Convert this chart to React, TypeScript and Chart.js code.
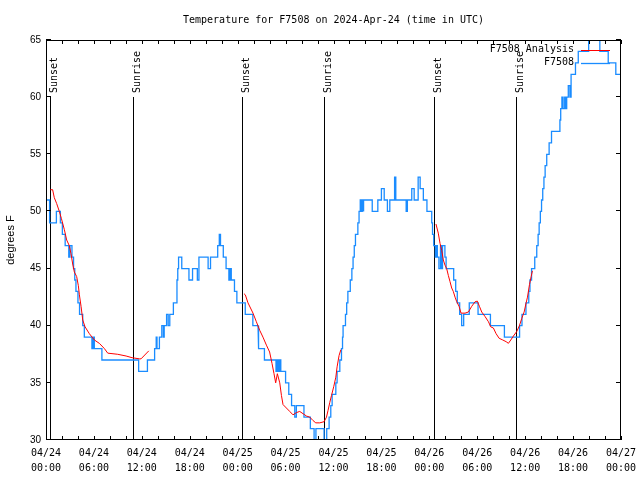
import React, { useEffect, useRef } from 'react';
import { Chart, registerables } from 'chart.js';

Chart.register(...registerables);

const TITLE = 'Temperature for F7508 on 2024-Apr-24 (time in UTC)';
const Y_TITLE = 'degrees F';
const X_DATES = ['04/24', '04/24', '04/24', '04/24', '04/25', '04/25', '04/25', '04/25', '04/26', '04/26', '04/26', '04/26', '04/27'];
const X_TIMES = ['00:00', '06:00', '12:00', '18:00', '00:00', '06:00', '12:00', '18:00', '00:00', '06:00', '12:00', '18:00', '00:00'];

const SUN_HOURS = [0.5, 10.86, 24.54, 34.82, 48.62, 58.91];
const SUN_LABELS = ['Sunset', 'Sunrise', 'Sunset', 'Sunrise', 'Sunset', 'Sunrise'];

const SERIES_NAMES = ['F7508 Analysis', 'F7508'];
const SERIES_COLORS = ['#ff0000', '#1a8cff'];

// Observed temperature: hour (from 04/24 00:00 UTC) at which the reading changes, and the new reading
const OBS_HOURS = [
  0, 0.45, 1.3, 1.8, 2.05, 2.4, 2.85, 3.0, 3.25, 3.45, 3.6, 3.75, 4.0, 4.2, 4.6, 4.8, 5.75, 5.9, 6.05, 7.0,
  11.6, 12.7, 13.6, 13.8, 13.9, 14.2, 14.5, 14.7, 14.8, 15.1, 15.3, 15.5, 15.95, 16.4, 16.5, 16.6, 17.0, 17.9,
  18.35, 18.95, 19.15, 20.3, 20.6, 21.5, 21.7, 21.85, 22.2, 22.55, 22.9, 23.05, 23.2, 23.6, 23.9, 24.95, 25.9,
  26.55, 26.65, 27.35, 28.8, 28.95, 29.1, 29.25, 29.4, 30.0, 30.4, 30.75, 31.15, 31.35, 32.3, 33.1, 33.57,
  33.8, 34.82, 35.15, 35.45, 35.66, 35.83, 36.29, 36.45, 36.79, 37.0, 37.13, 37.2, 37.5, 37.65, 37.8, 38.1,
  38.3, 38.45, 38.6, 38.75, 39.05, 39.2, 39.35, 39.5, 39.6, 39.7, 39.8, 40.85, 41.55, 42.0, 42.35, 42.75,
  43.05, 43.65, 43.8, 45.1, 45.25, 45.8, 46.1, 46.6, 46.85, 47.25, 47.7, 48.3, 48.4, 48.55, 48.75, 48.85,
  49.0, 49.2, 49.4, 49.55, 49.65, 49.95, 50.1, 51.05, 51.3, 51.5, 51.8, 52.05, 52.3, 53.0, 54.1, 55.65,
  57.4, 59.3, 59.6, 60.1, 60.45, 60.6, 60.8, 61.2, 61.45, 61.62, 61.75, 61.9, 62.05, 62.2, 62.35, 62.5,
  62.7, 63.0, 63.3, 64.35, 64.45, 64.6, 64.75, 64.95, 65.05, 65.2, 65.4, 65.6, 65.75, 66.3, 66.65, 67.95,
  69.35, 70.4, 71.35, 72,
];
const OBS_TEMPS = [
  51, 49, 50, 49, 48, 47, 46, 47, 46, 45, 44, 43, 42, 41, 40, 39, 38, 39, 38, 37,
  36, 37, 38, 39, 38, 39, 40, 39, 40, 41, 40, 41, 42, 44, 45, 46, 45, 44,
  45, 44, 46, 45, 46, 47, 48, 47, 46, 45, 44, 45, 44, 43, 42, 41, 40,
  39, 38, 37, 36, 37, 36, 37, 36, 35, 34, 33, 32, 33, 32, 31, 29,
  31, 29, 31, 32, 33, 34, 35, 36, 37, 38, 39, 40, 41, 42, 43, 44,
  45, 46, 47, 48, 49, 50, 51, 50, 51, 50, 51, 50, 51, 52, 51, 50,
  51, 53, 51, 50, 51, 52, 51, 53, 52, 51, 50, 49, 48, 47, 46, 47,
  46, 45, 47, 45, 47, 46, 45, 44, 43, 42, 41, 40, 41, 42, 41, 40,
  39, 40, 41, 42, 43, 44, 45, 46, 47, 48, 49, 50, 51, 52, 53, 54,
  55, 56, 57, 58, 59, 60, 59, 60, 59, 60, 61, 60, 62, 63, 64, 66,
  64, 63, 62, 62,
];

// Analysis temperature (null separates the night-time segments)
const ANALYSIS_HOURS = [
  0.54, 0.83, 1.04, 1.33, 1.67, 1.92, 2.3, 2.59, 2.92, 3.13, 3.34, 3.55, 3.84, 4.05, 4.18, 4.39, 4.6, 4.89,
  5.43, 6.06, 6.69, 7.31, 7.73, 8.98, 10.03, 10.78, 11.7, 11.9, 12.87,
  18,
  24.79, 24.96, 25.29, 25.92, 26.34, 26.76, 27.17, 27.6, 28.0, 28.3, 28.55, 28.76, 28.97, 29.27, 29.48, 29.68,
  30.1, 30.52, 30.93, 31.36, 31.77, 32.19, 32.61, 33.03, 33.44, 33.78, 34.28, 34.82, 35.12, 35.32, 35.54,
  35.75, 36.04, 36.29, 36.45, 36.7, 36.92,
  42,
  48.83, 49.12, 49.34, 49.55, 49.75, 49.96, 50.17, 50.38, 50.59, 50.8, 51.0, 51.22, 51.43, 51.72, 51.97,
  52.47, 52.89, 53.31, 53.73, 54.01, 54.27, 54.56, 54.98, 55.4, 55.69, 56.02, 56.36, 56.74, 57.2, 57.62,
  57.9, 58.2, 58.53, 58.95, 59.28, 59.58, 59.87, 60.12, 60.29, 60.54, 60.75, 60.91,
];
const ANALYSIS_TEMPS = [
  51.9, 51.9, 51.2, 50.7, 50.0, 49.4, 48.4, 47.5, 47.0, 46.3, 45.4, 44.7, 44.3, 43.5, 42.7, 41.7, 40.5, 39.9,
  39.3, 38.75, 38.45, 38.0, 37.6, 37.5, 37.35, 37.2, 37.1, 37.1, 37.8,
  null,
  42.8, 42.7, 42.0, 41.1, 40.35, 39.6, 39.0, 38.3, 37.7, 36.7, 35.8, 35.0, 35.8, 35.0, 33.9, 33.1,
  32.8, 32.5, 32.2, 32.4, 32.5, 32.3, 32.1, 32.0, 31.7, 31.5, 31.5, 31.6, 32.0, 32.6, 33.3,
  33.9, 34.7, 35.5, 36.4, 37.4, 37.9,
  null,
  48.9, 48.1, 47.2, 46.6, 45.75, 45.3, 45.0, 44.4, 43.85, 43.3, 43.0, 42.5, 42.1, 41.7, 41.1,
  41.1, 41.2, 41.7, 42.1, 42.15, 41.7, 41.2, 40.8, 40.35, 39.9, 39.8, 39.3, 38.9, 38.75, 38.6,
  38.46, 38.75, 39.1, 39.5, 40.0, 40.65, 41.2, 42.0, 42.5, 43.6, 44.3, 44.8,
];

const X_MIN = 0;
const X_MAX = 72;
const Y_MIN = 30;
const Y_MAX = 65;

const MONO = '"DejaVu Sans Mono", monospace';
const SANS = '"Liberation Sans", Arial, sans-serif';

function buildSteps(hours: number[], temps: number[]) {
  const pts: { x: number; y: number }[] = [];
  for (let i = 0; i < hours.length; i++) {
    if (i > 0) pts.push({ x: hours[i], y: temps[i - 1] });
    pts.push({ x: hours[i], y: temps[i] });
  }
  return pts;
}

const decorPlugin = {
  id: 'gnuplotDecor',
  beforeDatasetsDraw(chart: any) {
    const { ctx, chartArea: a, scales } = chart;
    const x = scales.x;
    ctx.save();
    ctx.strokeStyle = '#000';
    ctx.fillStyle = '#000';
    ctx.lineWidth = 1;
    ctx.font = `10px ${MONO}`;
    SUN_HOURS.forEach((h, i) => {
      const px = Math.round(x.getPixelForValue(h)) + 0.5;
      ctx.beginPath();
      ctx.moveTo(px, a.top + 57);
      ctx.lineTo(px, a.bottom);
      ctx.stroke();
      ctx.save();
      ctx.translate(px + 6.5, a.top + 53);
      ctx.rotate(-Math.PI / 2);
      ctx.textAlign = 'left';
      ctx.textBaseline = 'alphabetic';
      ctx.fillText(SUN_LABELS[i], 0, 0);
      ctx.restore();
    });
    ctx.restore();
  },
  afterDatasetsDraw(chart: any) {
    const { ctx, chartArea: a, scales } = chart;
    const x = scales.x;
    const y = scales.y;
    ctx.save();
    ctx.strokeStyle = '#000';
    ctx.fillStyle = '#000';
    ctx.lineWidth = 1;
    // border
    ctx.strokeRect(a.left + 0.5, a.top + 0.5, a.right - a.left - 1, a.bottom - a.top - 1);
    // inward ticks
    ctx.beginPath();
    x.ticks.forEach((t: any) => {
      const px = Math.round(x.getPixelForValue(t.value)) + 0.5;
      ctx.moveTo(px, a.bottom);
      ctx.lineTo(px, a.bottom - 4);
      ctx.moveTo(px, a.top);
      ctx.lineTo(px, a.top + 4);
    });
    y.ticks.forEach((t: any) => {
      const py = Math.round(y.getPixelForValue(t.value)) - 0.5;
      ctx.moveTo(a.left, py);
      ctx.lineTo(a.left + 5, py);
      ctx.moveTo(a.right, py);
      ctx.lineTo(a.right - 5, py);
    });
    ctx.stroke();
    // legend
    ctx.font = `10px ${MONO}`;
    ctx.textAlign = 'right';
    ctx.textBaseline = 'middle';
    SERIES_NAMES.forEach((name, i) => {
      const ly = a.top + 9.5 + i * 13;
      ctx.fillStyle = '#000';
      ctx.fillText(name, a.right - 47, ly);
      ctx.strokeStyle = SERIES_COLORS[i];
      ctx.lineWidth = i === 1 ? 1.3 : 1;
      ctx.beginPath();
      ctx.moveTo(a.right - 40, Math.round(ly) + 0.5);
      ctx.lineTo(a.right - 11, Math.round(ly) + 0.5);
      ctx.stroke();
    });
    // title
    ctx.fillStyle = '#000';
    ctx.textAlign = 'center';
    ctx.textBaseline = 'middle';
    ctx.fillText(TITLE, (a.left + a.right) / 2, 20);
    ctx.restore();
  },
};

export default function App() {
  const canvasRef = useRef<HTMLCanvasElement | null>(null);

  useEffect(() => {
    document.body.style.margin = '0';
    const canvas = canvasRef.current;
    if (!canvas) return;
    const obsData = buildSteps(OBS_HOURS, OBS_TEMPS);
    const anaData = ANALYSIS_HOURS.map((h, i) => ({ x: h, y: ANALYSIS_TEMPS[i] }));
    const chart = new Chart(canvas, {
      type: 'line',
      data: {
        datasets: [
          {
            label: SERIES_NAMES[0],
            data: anaData as any,
            borderColor: SERIES_COLORS[0],
            borderWidth: 1,
            pointRadius: 0,
            tension: 0,
            spanGaps: false,
          },
          {
            label: SERIES_NAMES[1],
            data: obsData,
            borderColor: SERIES_COLORS[1],
            borderWidth: 1.3,
            pointRadius: 0,
            tension: 0,
          },
        ],
      },
      options: {
        animation: false,
        responsive: false,
        devicePixelRatio: 1,
        events: [],
        layout: { padding: { top: 40, right: 19, bottom: 0, left: 0 } },
        plugins: {
          legend: { display: false },
          title: { display: false },
          tooltip: { enabled: false },
        },
        scales: {
          x: {
            type: 'linear',
            min: X_MIN,
            max: X_MAX,
            border: { display: false },
            grid: { display: false, drawTicks: false },
            ticks: {
              stepSize: 2,
              autoSkip: false,
              maxRotation: 0,
              minRotation: 0,
              padding: 6,
              color: '#000',
              font: { family: MONO, size: 10, lineHeight: 1.5 },
              callback: (v: any) => {
                const n = Number(v);
                if (n % 6 !== 0) return '';
                const k = n / 6;
                return [X_DATES[k], X_TIMES[k]];
              },
            },
            afterFit: (s: any) => {
              s.height = 40;
              s.paddingLeft = 0;
              s.paddingRight = 0;
            },
          },
          y: {
            type: 'linear',
            min: Y_MIN,
            max: Y_MAX,
            border: { display: false },
            grid: { display: false, drawTicks: false },
            ticks: {
              stepSize: 5,
              padding: 5,
              color: '#000',
              font: { family: SANS, size: 10 },
            },
            title: {
              display: true,
              text: Y_TITLE,
              color: '#000',
              font: { family: SANS, size: 11 },
              padding: { top: 4, bottom: 0 },
            },
            afterFit: (s: any) => {
              s.width = 46;
              s.paddingTop = 0;
              s.paddingBottom = 0;
            },
          },
        },
      },
      plugins: [decorPlugin],
    });
    return () => chart.destroy();
  }, []);

  return (
    <div style={{ width: 640, height: 480, background: '#fff' }}>
      <canvas ref={canvasRef} width={640} height={480} />
    </div>
  );
}
